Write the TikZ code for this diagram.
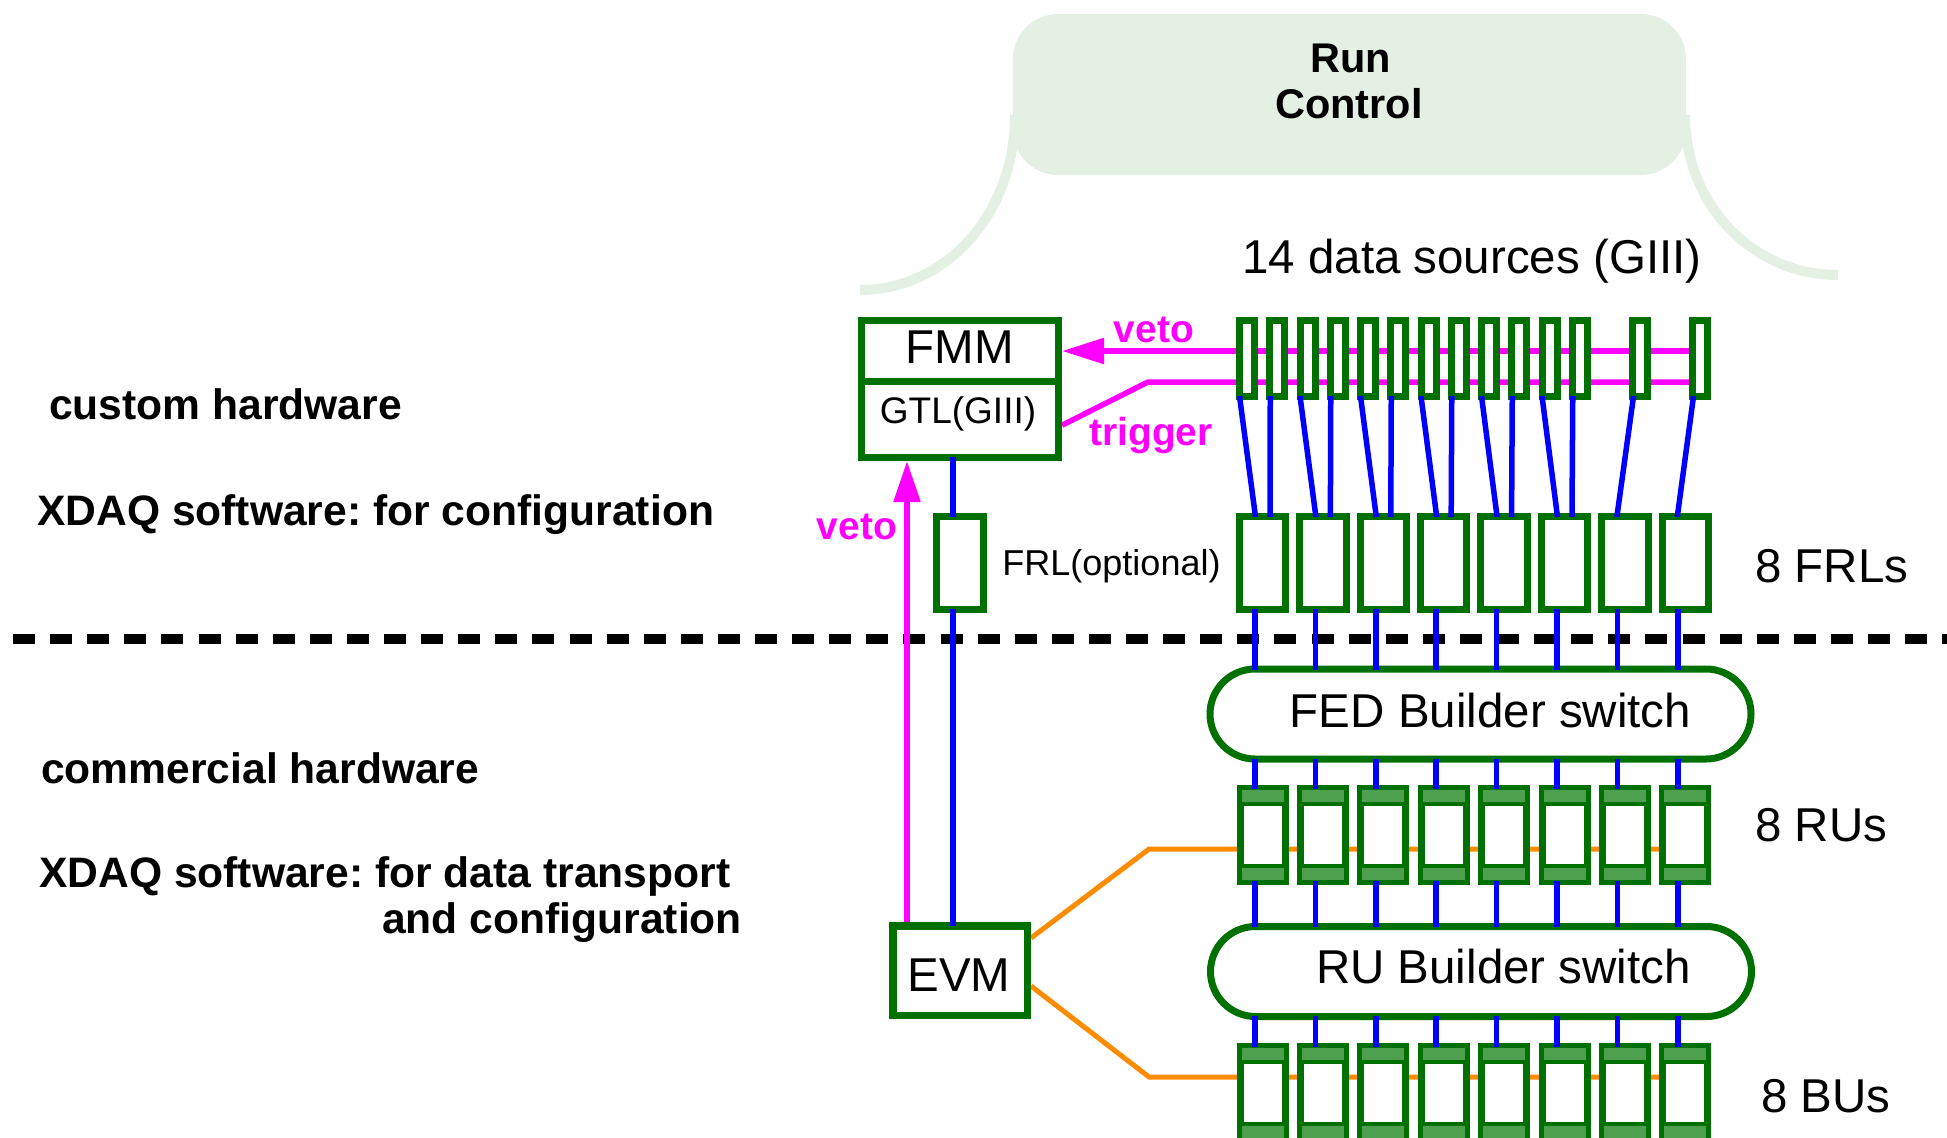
\documentclass[tikz,border=0pt]{standalone}
\usepackage{fontspec}
\setmainfont{Liberation Sans}
\usetikzlibrary{arrows.meta,backgrounds}
\definecolor{dgreen}{RGB}{0,112,0}
\definecolor{mgreen}{RGB}{78,160,78}
\definecolor{pgreen}{RGB}{227,240,227}
\definecolor{orangeline}{RGB}{255,140,0}
\definecolor{pmag}{RGB}{255,0,255}
\definecolor{pblue}{RGB}{0,0,255}
\frenchspacing
\begin{document}
\begin{tikzpicture}[x=1pt,y=-1pt,
 box/.style={draw=dgreen,fill=white,line width=7pt,inner sep=0pt},
 ubox/.style={draw=dgreen,fill=mgreen,line width=5pt,inner sep=0pt,minimum width=47pt,minimum height=95pt},
 whitebox/.style={draw=dgreen,fill=white,line width=4pt},
 bl/.style={draw=pblue,line width=5.5pt,shorten <=-4pt,shorten >=-4pt},
 mg/.style={draw=pmag,line width=5.5pt},
 og/.style={draw=orangeline,line width=5pt},
 leg/.style={draw=pgreen,line width=10pt},
 txt/.style={inner sep=0pt,anchor=base},
 big/.style={font=\fontsize{47.5}{47.5}\selectfont},
 lbl/.style={font=\bfseries\fontsize{42.6}{42.6}\selectfont},
 sig/.style={text=pmag,font=\bfseries\fontsize{39}{39}\selectfont},
 switchbox/.style={box,rounded corners=45pt,minimum width=541pt,minimum height=90pt}
]
\useasboundingbox (0,0) rectangle (1947,1138);

% Run Control
\draw[leg] (1015,115) .. controls (1015,214) and (945.6,290) .. (860,290);
\draw[leg] (1685,115) .. controls (1685,205.6) and (1753.5,275) .. (1838,275);
\node[fill=pgreen,rounded corners=45pt,minimum width=673pt,minimum height=161pt,inner sep=0pt,outer sep=0pt] (rc) at (1349.5,94.5) {};
\node[txt,font=\bfseries\fontsize{41.5}{41.5}\selectfont] (rc1) at (1351,72) {Run};
\node[txt,font=\bfseries\fontsize{41.5}{41.5}\selectfont] (rc2) at (1349,118) {Control};

\node[txt,big,anchor=base west] (tds) at (1242,273) {14 data sources (GIII)};

% FMM / GTL
\node[box,minimum width=197pt,minimum height=60.5pt] (fmm) at (960,350.75) {};
\node[box,minimum width=197pt,minimum height=76.5pt] (gtl) at (960,419.25) {};
\node[txt,big] (tFMM) at (960,363) {FMM};
\node[txt,font=\fontsize{37}{37}\selectfont] (tGTL) at (958,423) {GTL(GIII)};

% data sources
\foreach \i/\x in {1/1247,2/1277.25,3/1307.5,4/1337.75,5/1368,6/1398.25,7/1428.5,8/1458.75,9/1489,10/1519.25,11/1549.5,12/1579.75,13/1640,14/1700}
  \node[box,minimum width=15pt,minimum height=76pt] (ds\i) at (\x,358.5) {};

% FRLs
\foreach \k/\x in {1/1262.5,2/1322.9,3/1383.3,4/1443.7,5/1504.1,6/1564.5,7/1624.9,8/1685.3}
  \node[box,minimum width=46.5pt,minimum height=93pt] (frl\k) at (\x,563) {};
\node[box,minimum width=46.5pt,minimum height=93pt] (frlopt) at (960,563) {};
\node[txt,font=\fontsize{36}{36}\selectfont] (tFRLo) at (1111.5,575) {FRL(optional)};

% switches
\node[switchbox] (fed) at (1480.5,714) {};
\node[txt,big] (tFED) at (1490.5,727) {FED Builder switch};
\node[switchbox] (rusw) at (1481,971.5) {};
\node[txt,big] (tRUsw) at (1503.5,983) {RU Builder switch};

% RUs and BUs
\foreach \k/\x in {1/1262.5,2/1322.9,3/1383.3,4/1443.7,5/1504.1,6/1564.5,7/1624.9,8/1685.3}{
  \node[ubox] (ru\k) at (\x,835) {};
  \draw[whitebox] ([xshift=5pt,yshift=-19pt]ru\k.north west) rectangle ([xshift=-5pt,yshift=19pt]ru\k.south east);
  \node[ubox] (bu\k) at (\x,1093) {};
  \draw[whitebox] ([xshift=5pt,yshift=-19pt]bu\k.north west) rectangle ([xshift=-5pt,yshift=19pt]bu\k.south east);
}

% EVM
\node[box,line width=7.5pt,minimum width=134.5pt,minimum height=89.5pt] (evm) at (960,970.5) {};
\node[txt,big] (tEVM) at (959,991) {EVM};

% coordinates
\coordinate (vy) at (0,351);
\coordinate (ty) at (0,382);
\coordinate (tb) at (1148,382);
\coordinate (vx) at (907,0);
\coordinate (oru) at (1149,849);
\coordinate (obu) at (1149,1077);

\begin{scope}[on background layer]
  \draw[line width=10pt,dash pattern=on 22pt off 15.1pt] (13,639) -- (1947,639);
  \draw[mg,-{Triangle[length=42pt,width=25pt]}] (ds14.west |- vy) -- (fmm.east |- vy);
  \draw[mg] (ds14.west |- ty) -- (tb) -- ([yshift=-6pt]gtl.east);
  \draw[mg,-{Triangle[length=41pt,width=26pt]}] (evm.north -| vx) -- (gtl.south -| vx);
  \draw[og] ([yshift=-16pt]evm.north east) -- (oru) -- (ru8.west |- oru);
  \draw[og] ([yshift=33pt]evm.south east) -- (obu) -- (bu8.west |- obu);
\end{scope}

% blue links
\foreach \k/\a/\b in {1/1/2,2/3/4,3/5/6,4/7/8,5/9/10,6/11/12}{
  \draw[bl] ([xshift=-7pt]ds\a.south) -- ([xshift=-7.5pt]frl\k.north);
  \draw[bl] ([xshift=-7pt]ds\b.south) -- ([xshift=7.5pt]frl\k.north);
}
\draw[bl] ([xshift=-7pt]ds13.south) -- ([xshift=-7.5pt]frl7.north);
\draw[bl] ([xshift=-7pt]ds14.south) -- ([xshift=-7.5pt]frl8.north);
\foreach \k in {1,...,8}{
  \coordinate (c\k) at ([xshift=-7.5pt]frl\k.south);
  \draw[bl] (c\k) -- (c\k |- fed.north);
  \draw[bl] (c\k |- fed.south) -- (c\k |- ru\k.north);
  \draw[bl] (c\k |- ru\k.south) -- (c\k |- rusw.north);
  \draw[bl] (c\k |- rusw.south) -- (c\k |- bu\k.north);
}
\draw[bl] ([xshift=-7pt]gtl.south) -- ([xshift=-7pt]frlopt.north);
\draw[bl] ([xshift=-7pt]frlopt.south) -- ([xshift=-7pt]evm.north);

% signal labels
\node[txt,sig] (tveto1) at (1154,342) {veto};
\node[txt,sig] (ttrig) at (1151,445) {trigger};
\node[txt,sig] (tveto2) at (857,539) {veto};

% right labels
\node[txt,big,anchor=base west] (tFRLs) at (1755,582) {8 FRLs};
\node[txt,big,anchor=base west] (tRUs) at (1755,841) {8 RUs};
\node[txt,big,anchor=base west] (tBUs) at (1761,1112) {8 BUs};

% left labels
\node[txt,lbl,anchor=base west] (l1) at (49,419) {custom hardware};
\node[txt,lbl,anchor=base west] (l2) at (37,525) {XDAQ software: for configuration};
\node[txt,lbl,anchor=base west] (l3) at (41,783) {commercial hardware};
\node[txt,lbl,anchor=base west] (l4) at (39,887) {XDAQ software: for data transport};
\node[txt,lbl,anchor=base west] (l5) at (382,933) {and configuration};
\end{tikzpicture}
\end{document}
